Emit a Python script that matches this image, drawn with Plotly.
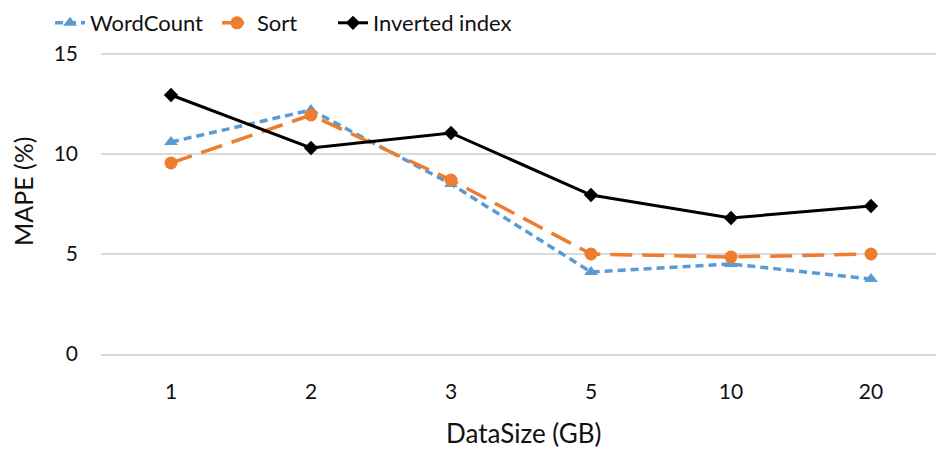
import plotly.graph_objects as go

categories = ["1", "2", "3", "5", "10", "20"]
wordcount = [10.6, 12.2, 8.5, 4.1, 4.5, 3.75]
sort_vals = [9.55, 11.95, 8.7, 5.0, 4.85, 5.0]
inverted = [12.95, 10.3, 11.05, 7.95, 6.8, 7.4]

FONT = "Lato"
TXT = "#111111"

fig = go.Figure()
fig.add_trace(go.Scatter(x=categories, y=wordcount, name="WordCount", mode="lines+markers",
                         line=dict(color="#5B9BD5", width=3.5, dash="8px,5px"),
                         marker=dict(symbol="triangle-up", size=12, color="#5B9BD5"),
                         legend="legend"))
fig.add_trace(go.Scatter(x=categories, y=sort_vals, name="Sort", mode="lines+markers",
                         line=dict(color="#ED7D31", width=3.5, dash="22px,10px"),
                         marker=dict(symbol="circle", size=13, color="#ED7D31"),
                         legend="legend2"))
fig.add_trace(go.Scatter(x=categories, y=inverted, name="Inverted index", mode="lines+markers",
                         line=dict(color="#000000", width=3),
                         marker=dict(symbol="diamond", size=11, color="#000000"),
                         legend="legend3"))

W, H = 936, 441  # page body adds an 8px offset
T, B = 36, 95
PH = H - T - B

def leg(xpix):
    ycenter_fig = 23 - 8
    return dict(orientation="h", x=(xpix - 8) / W, xanchor="left", xref="container",
                y=(H - B - ycenter_fig) / PH, yanchor="middle", yref="paper",
                font=dict(size=22, color=TXT, family=FONT),
                bgcolor="rgba(0,0,0,0)", borderwidth=0)

fig.update_layout(
    width=W, height=H,
    margin=dict(l=93, r=3, t=T, b=B, autoexpand=False),
    plot_bgcolor="white", paper_bgcolor="white",
    font=dict(family=FONT, size=20, color=TXT),
    showlegend=True,
    legend=leg(50), legend2=leg(217), legend3=leg(333),
    xaxis=dict(type="category", range=[-0.5, 5.5], showgrid=False, showline=True,
               linecolor="#D9D9D9", linewidth=2, ticks="", tickfont=dict(size=21),
               automargin=False, ticklabelstandoff=18),
    yaxis=dict(range=[0, 15.5], tickvals=[0, 5, 10, 15], showgrid=True, gridcolor="#D9D9D9",
               gridwidth=2, zeroline=False, showline=False, ticks="", ticklen=0,
               tickfont=dict(size=21), automargin=False, ticklabelstandoff=22),
    annotations=[
        dict(text="DataSize (GB)", xref="paper", yref="paper", x=0.5, y=0,
             xanchor="center", yanchor="middle", yshift=-79, xshift=2,
             showarrow=False, font=dict(size=26, color=TXT)),
        dict(text="MAPE (%)", xref="paper", yref="paper", x=0, y=0.5,
             xanchor="center", yanchor="middle", xshift=-78, yshift=7, textangle=-90,
             showarrow=False, font=dict(size=25, color=TXT)),
    ],
)

fig.write_html("out.html")
